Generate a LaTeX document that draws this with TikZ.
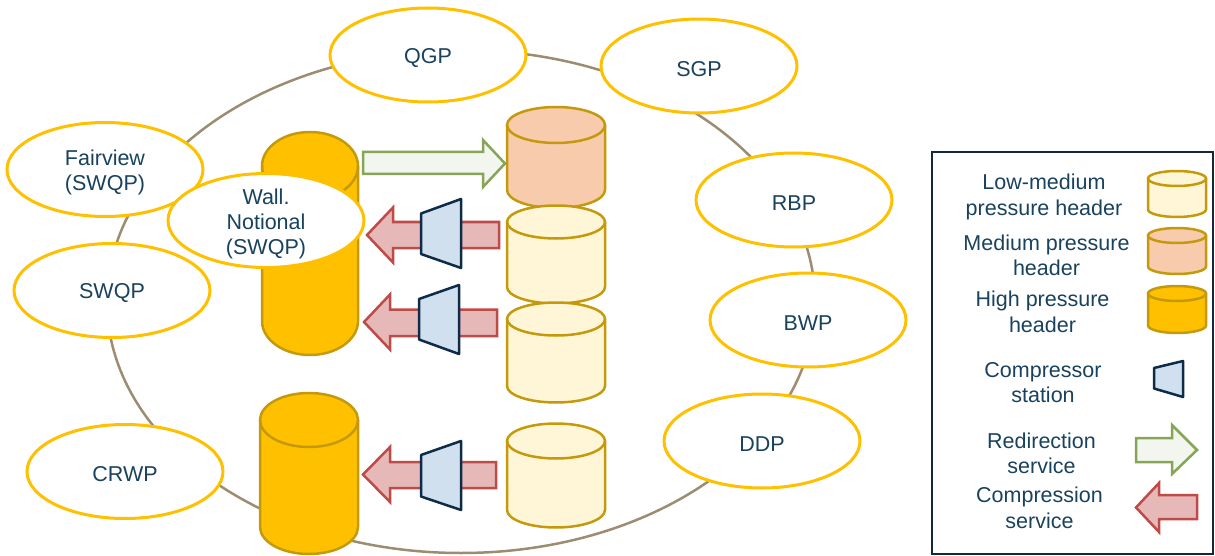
\documentclass[tikz,border=0pt]{standalone}
\usepackage{fontspec}
\setmainfont{Liberation Sans}
\usetikzlibrary{shapes.geometric}
\definecolor{ringc}{HTML}{9C8D72}
\definecolor{siteyel}{HTML}{FFC000}
\definecolor{txtblue}{HTML}{18425E}
\definecolor{hpfill}{HTML}{FFC000}
\definecolor{cylline}{HTML}{C49A0C}
\definecolor{mpfill}{HTML}{F8CBAD}
\definecolor{lmfill}{HTML}{FFF6D8}
\definecolor{compfill}{HTML}{D0E0EF}
\definecolor{compline}{HTML}{0E2C47}
\definecolor{grfill}{HTML}{F3F6EF}
\definecolor{grline}{HTML}{87A556}
\definecolor{rdfill}{HTML}{E6B8B7}
\definecolor{rdline}{HTML}{BE4B48}
\definecolor{legline}{HTML}{15283A}
% #1 cx, #2 top-centre y, #3 bottom-centre y, #4 rx, #5 ry, #6 fill colour
\newcommand\hdrcyl[6]{%
  \fill[#6] ({#1-#4},#2) -- ({#1-#4},#3) arc[start angle=180,end angle=360,x radius=#4pt,y radius=#5pt]
    -- ({#1+#4},#2) arc[start angle=0,end angle=180,x radius=#4pt,y radius=#5pt] -- cycle;
  \draw[cylstroke] ({#1-#4},#2) -- ({#1-#4},#3) arc[start angle=180,end angle=360,x radius=#4pt,y radius=#5pt]
    -- ({#1+#4},#2);
  \draw[cylstroke] (#1,#2) ellipse[x radius=#4pt,y radius=#5pt];
}
\begin{document}
\begin{tikzpicture}[x=1pt,y=-1pt,
  cylstroke/.style={draw=cylline,line width=2.5pt},
  site/.style={ellipse,draw=siteyel,line width=3pt,fill=white,minimum width=196pt,minimum height=94pt,inner sep=0pt},
  sitetxt/.style={align=center,text=txtblue,inner sep=0pt,yshift=-3pt,font=\fontsize{21.5}{25}\selectfont},
  legtxt/.style={align=center,text=txtblue,inner sep=0pt,yshift=-2pt,font=\fontsize{21.5}{25.5}\selectfont},
  grarrow/.style={draw=grline,fill=grfill,line width=2.5pt,line join=miter},
  rdarrow/.style={draw=rdline,fill=rdfill,line width=2.5pt,line join=miter},
  compr/.style={draw=compline,fill=compfill,line width=2.5pt,line join=round},
  ring/.style={draw=ringc,line width=2.5pt}]
\useasboundingbox (0,0) rectangle (1215,556);
% ring
\draw[ring] (461,301.5) ellipse[x radius=354pt,y radius=251.5pt];
% high pressure headers
\hdrcyl{310}{166}{321}{48}{34}{hpfill}
\hdrcyl{309}{420}{527}{49}{27}{hpfill}
% medium and low-medium headers
\hdrcyl{556}{125}{190}{49}{18}{mpfill}
\hdrcyl{556}{222}{287}{49}{16.5}{lmfill}
\hdrcyl{556}{319}{386}{49}{16.5}{lmfill}
\hdrcyl{556}{441}{510}{49}{17.5}{lmfill}
% redirection arrow
\draw[grarrow] (363,152) -- (483,152) -- (483,140) -- (505,163.5) -- (483,187) -- (483,174) -- (363,174) -- cycle;
% compression arrows
\draw[rdarrow] (499,222) -- (393,222) -- (393,207.5) -- (367,235) -- (393,262.5) -- (393,248) -- (499,248) -- cycle;
\draw[rdarrow] (497,309.5) -- (390,309.5) -- (390,294.5) -- (364,322) -- (390,349.5) -- (390,336) -- (497,336) -- cycle;
\draw[rdarrow] (496,462) -- (390,462) -- (390,447) -- (363,474.5) -- (390,502) -- (390,488) -- (496,488) -- cycle;
% compressors
\draw[compr] (421,213.5) -- (461,199) -- (461,268) -- (421,254) -- cycle;
\draw[compr] (419,299) -- (459,285) -- (459,354) -- (419,339.5) -- cycle;
\draw[compr] (421,455) -- (461,441) -- (461,510) -- (421,496.5) -- cycle;
% sites
\node[site] (qgp) at (428,55) {};
\node[sitetxt] (qgpt) at (qgp) {QGP};
\node[site] (sgp) at (699,66) {};
\node[sitetxt] (sgpt) at (sgp) {SGP};
\node[site] (rbp) at (794,200) {};
\node[sitetxt] (rbpt) at (rbp) {RBP};
\node[site] (bwp) at (808,320) {};
\node[sitetxt] (bwpt) at (bwp) {BWP};
\node[site] (ddp) at (762,441) {};
\node[sitetxt] (ddpt) at (ddp) {DDP};
\node[site] (crwp) at (125,471.5) {};
\node[sitetxt] (crwpt) at (crwp) {CRWP};
\node[site] (swqp) at (112,290.5) {};
\node[sitetxt] (swqpt) at (swqp) {SWQP};
\node[site] (fair) at (105,169.5) {};
\node[sitetxt] (fairt) at (fair) {Fairview\\(SWQP)};
\node[site] (wall) at (266,220.5) {};
\node[sitetxt] (wallt) at (wall) {Wall.\\Notional\\(SWQP)};
% legend
\draw[legline,line width=2.5pt] (932,152) rectangle (1213,554);
\node[legtxt] (l1) at (1044,195) {Low-medium\\pressure header};
\node[legtxt] (l2) at (1046.5,253.5) {Medium pressure\\header};
\node[legtxt] (l3) at (1042.5,310) {High pressure\\header};
\node[legtxt] (l4) at (1043,380.5) {Compressor\\station};
\node[legtxt] (l5) at (1041.5,451.5) {Redirection\\service};
\node[legtxt] (l6) at (1039.5,506) {Compression\\service};
\hdrcyl{1177}{178.5}{209.5}{29}{7.5}{lmfill}
\hdrcyl{1177}{235.5}{266.5}{29}{7.5}{mpfill}
\hdrcyl{1177}{293.5}{325.5}{29}{7.5}{hpfill}
\draw[compr] (1154,368) -- (1183,361) -- (1183,397) -- (1154,388.5) -- cycle;
\draw[grarrow] (1136,438) -- (1172,438) -- (1172,425) -- (1197,450) -- (1172,474) -- (1172,462) -- (1136,462) -- cycle;
\draw[rdarrow] (1197,495) -- (1159,495) -- (1159,483) -- (1136,507.5) -- (1159,532) -- (1159,519) -- (1197,519) -- cycle;
\end{tikzpicture}
\end{document}
